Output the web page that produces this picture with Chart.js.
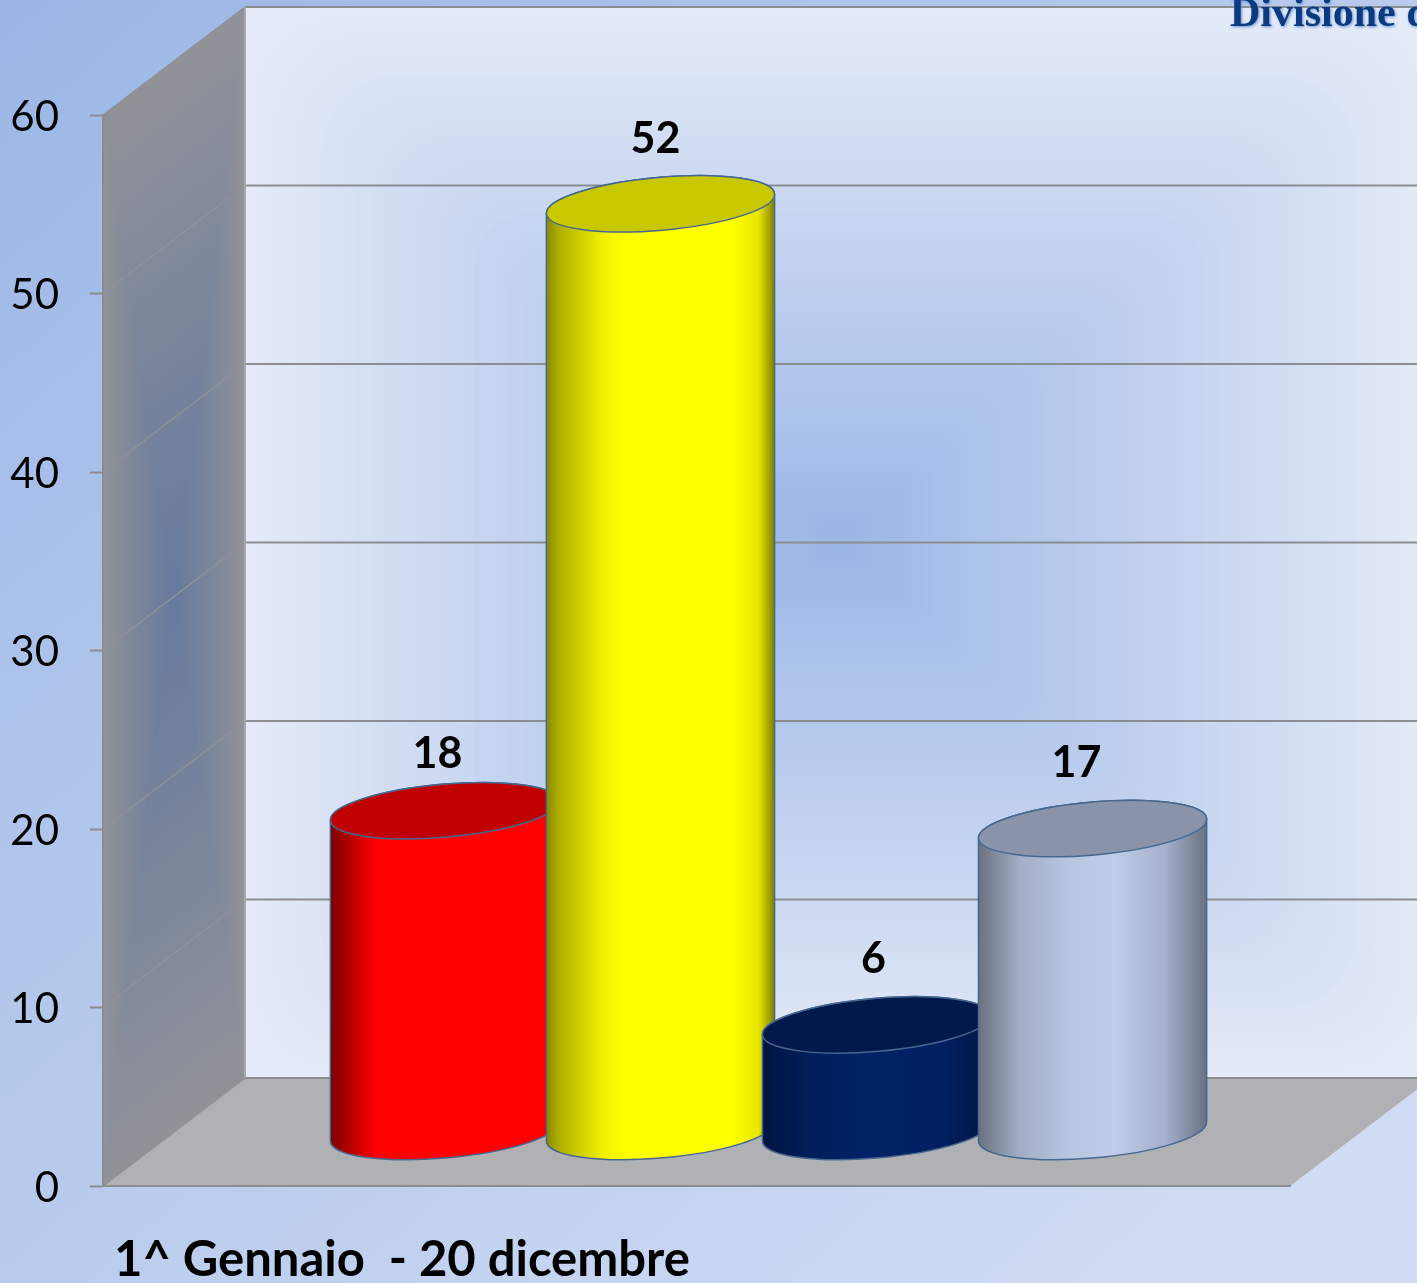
<!DOCTYPE html>
<html>
<head>
<meta charset="utf-8">
<style>
  html, body { margin: 0; padding: 0; overflow: hidden; background: #b4c8ec; }
  canvas { display: block; }
</style>
<script src="https://cdn.jsdelivr.net/npm/chart.js@4"></script>
</head>
<body>
<canvas id="chart" width="1417" height="1283"></canvas>
<script>
const categories = ['1^ Gennaio  - 20 dicembre'];
const seriesValues = [18, 52, 6, 17];
const tickLabels = [0, 10, 20, 30, 40, 50, 60];
const cornerText = 'Divisione d';

// colori dei cilindri: gradiente del corpo + coperchio
const bodyStops = [
    [[0, '#7d0000'], [0.2, '#ff0000'], [1, '#ff0000']],
    [[0, '#8a8a00'], [0.06, '#b0b000'], [0.25, '#f2f200'], [0.35, '#ffff00'], [0.82, '#ffff00'], [0.93, '#e6e600'], [1, '#808000']],
    [[0, '#001440'], [0.2, '#001e5a'], [0.45, '#002266'], [0.8, '#002060'], [1, '#001440']],
    [[0, '#6a7280'], [0.18, '#a2aec6'], [0.4, '#b9c6e2'], [0.6, '#c0cde8'], [0.82, '#a4b0cc'], [1, '#687284']]
];
const capColors = ['#c00000', '#c8c800', '#00194c', '#8993a9'];
const labelNudge = [[-7, 8], [-5, 0], [-3, -1], [-16, 0]];

const DEPTH_X = 142, DEPTH_Y = 108;
const TILT = -5 * Math.PI / 180, RY = 26.5;
const STEPS = 70;

function mix(c1, c2, t) {
    return 'rgb(' + c1.map((v, i) => Math.round(v + (c2[i] - v) * t)).join(',') + ')';
}

const scene = {
    id: 'scene',
    beforeDraw(chart) {
        const { ctx, chartArea: a, scales: { y } } = chart;
        const W = chart.width, H = chart.height;
        const bx = a.left + DEPTH_X, by = a.bottom - DEPTH_Y, topY = a.top - DEPTH_Y;
        const bRight = a.right + DEPTH_X;
        ctx.save();

        // sfondo pagina
        const g = ctx.createLinearGradient(0, 0, W * 0.8, H);
        g.addColorStop(0, '#9cb7e6');
        g.addColorStop(1, '#d0dcf3');
        ctx.fillStyle = g;
        ctx.fillRect(0, 0, W, H);

        // parete di fondo: gradiente rettangolare dal centro verso i bordi
        const cx = (bx + bRight) / 2, cy = (topY + by) / 2;
        const hw = (bRight - bx) / 2, hh = (by - topY) / 2;
        for (let i = STEPS; i > 0; i--) {
            const t = i / STEPS;
            ctx.fillStyle = mix([154, 182, 230], [228, 234, 247], t);
            ctx.beginPath();
            ctx.roundRect(cx - hw * t, cy - hh * t, hw * t * 2, hh * t * 2, i === STEPS ? 0 : 90 * t);
            ctx.fill();
        }

        // pavimento
        ctx.fillStyle = '#afb1b5';
        ctx.beginPath();
        ctx.moveTo(a.left, a.bottom);
        ctx.lineTo(bx, by);
        ctx.lineTo(bRight, by);
        ctx.lineTo(a.right, a.bottom);
        ctx.closePath();
        ctx.fill();

        // parete laterale: stesso gradiente sul parallelogramma
        const sx = (a.left + bx) / 2, sy = (a.top + a.bottom - DEPTH_Y) / 2;
        const corners = [[a.left, a.top], [bx, topY], [bx, by], [a.left, a.bottom]];
        for (let i = STEPS; i > 0; i--) {
            const t = i / STEPS;
            ctx.fillStyle = mix([102, 122, 158], [144, 146, 152], t);
            ctx.beginPath();
            corners.forEach((p, k) => {
                const px = sx + (p[0] - sx) * t, py = sy + (p[1] - sy) * t;
                if (k === 0) ctx.moveTo(px, py); else ctx.lineTo(px, py);
            });
            ctx.closePath();
            ctx.fill();
        }

        // griglia
        y.ticks.forEach(t => {
            const py = y.getPixelForValue(t.value);
            ctx.strokeStyle = '#8f9195';
            ctx.lineWidth = 1.5;
            ctx.beginPath();
            ctx.moveTo(a.left, py);
            ctx.lineTo(bx, py - DEPTH_Y);
            ctx.stroke();
            ctx.strokeStyle = '#8b8d90';
            ctx.lineWidth = 2;
            ctx.beginPath();
            ctx.moveTo(bx, py - DEPTH_Y);
            ctx.lineTo(W, py - DEPTH_Y);
            ctx.stroke();
        });
        ctx.strokeStyle = '#a6a9ae';
        ctx.lineWidth = 2;
        ctx.beginPath();
        ctx.moveTo(bx, topY);
        ctx.lineTo(bx, by);
        ctx.stroke();
        ctx.restore();
    },
    afterDatasetsDraw(chart) {
        const { ctx } = chart;
        ctx.save();
        seriesValues.forEach((v, i) => {
            const bar = chart.getDatasetMeta(i).data[0];
            const cx = bar.x + DEPTH_X / 2 + 1;
            const topC = bar.y - DEPTH_Y / 2;
            const botC = bar.base - DEPTH_Y / 2;
            const rx = (bar.width / 2) / Math.cos(TILT);
            const t0 = Math.atan(-(RY / rx) * Math.tan(TILT));

            const g = ctx.createLinearGradient(cx - bar.width / 2, 0, cx + bar.width / 2, 0);
            bodyStops[i].forEach(s => g.addColorStop(s[0], s[1]));
            ctx.beginPath();
            ctx.ellipse(cx, botC, rx, RY, TILT, t0, t0 + Math.PI);
            ctx.ellipse(cx, topC, rx, RY, TILT, t0 + Math.PI, t0 + 2 * Math.PI);
            ctx.closePath();
            ctx.fillStyle = g;
            ctx.fill();
            ctx.strokeStyle = '#46678f';
            ctx.lineWidth = 1.5;
            ctx.stroke();

            ctx.beginPath();
            ctx.ellipse(cx, topC, rx, RY, TILT, 0, 2 * Math.PI);
            ctx.fillStyle = capColors[i];
            ctx.fill();
            ctx.stroke();

            ctx.fillStyle = '#000';
            ctx.font = 'bold 43px Lato';
            ctx.textAlign = 'center';
            ctx.textBaseline = 'middle';
            ctx.fillText(String(v), cx + labelNudge[i][0], topC - 65 + labelNudge[i][1]);
        });

        // testi fuori dal grafico
        const a = chart.chartArea;
        ctx.fillStyle = '#000';
        ctx.font = 'bold 49px Lato';
        ctx.textAlign = 'left';
        ctx.textBaseline = 'alphabetic';
        ctx.fillText(categories[0], a.left + 11, a.bottom + 90);

        ctx.font = 'bold 42px "Liberation Serif"';
        ctx.shadowColor = '#5f8fd0';
        ctx.shadowBlur = 3;
        ctx.shadowOffsetX = 1;
        ctx.shadowOffsetY = 1;
        ctx.fillStyle = '#0b3a80';
        ctx.fillText(cornerText, 1230, 26);
        ctx.restore();
    }
};

new Chart(document.getElementById('chart'), {
    type: 'bar',
    data: {
        labels: categories,
        datasets: seriesValues.map(v => ({
            data: [v],
            backgroundColor: 'transparent',
            borderWidth: 0,
            barPercentage: 1.056,
            categoryPercentage: 0.728
        }))
    },
    options: {
        responsive: false,
        animation: false,
        layout: { autoPadding: false, padding: { top: 115, right: 127 } },
        plugins: { legend: { display: false }, tooltip: { enabled: false } },
        scales: {
            x: {
                afterFit: s => { s.height = 97; },
                ticks: { display: false },
                grid: { display: false, drawTicks: false },
                border: { color: '#8b8d90', width: 2 }
            },
            y: {
                min: 0,
                max: 60,
                afterFit: s => { s.width = 103; },
                afterBuildTicks: s => { s.ticks = tickLabels.map(v => ({ value: v })); },
                ticks: { color: '#000', padding: 31, labelOffset: 2, font: { family: 'Lato', size: 42 } },
                grid: { drawOnChartArea: false, tickLength: 13, tickColor: '#8b8d90', tickWidth: 2 },
                border: { color: '#8b8d90', width: 2 }
            }
        }
    },
    plugins: [scene]
});
</script>
</body>
</html>
